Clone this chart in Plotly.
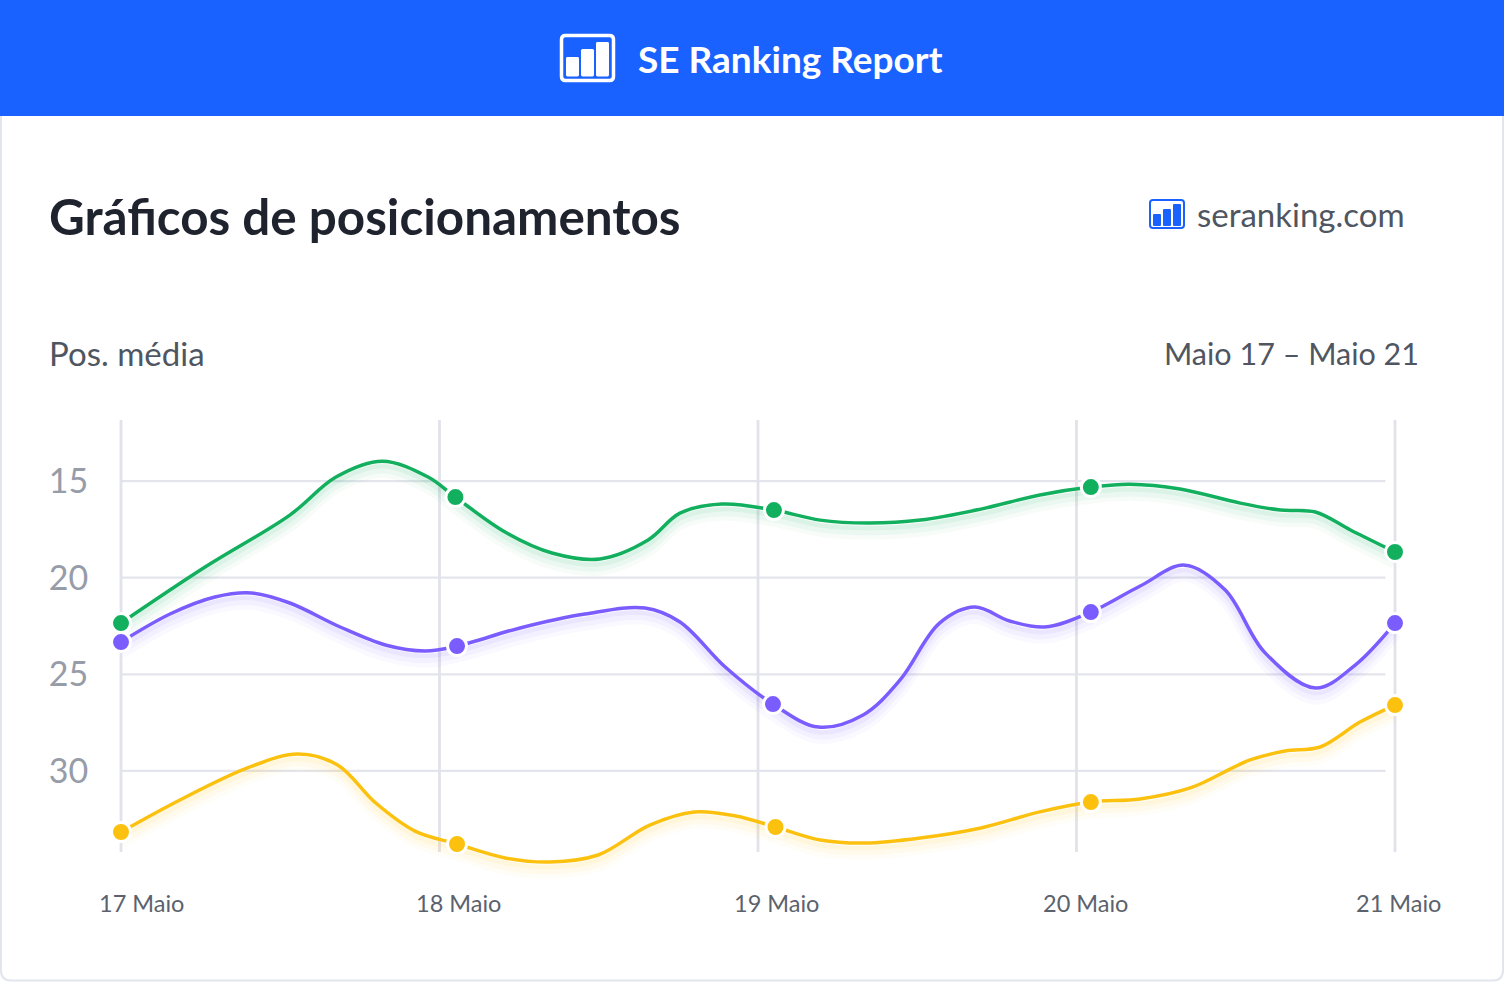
import plotly.graph_objects as go

W, H = 1504, 982
FONT = "Lato"

days = [17, 18, 19, 20, 21]
day_labels = ["17 Maio", "18 Maio", "19 Maio", "20 Maio", "21 Maio"]
label_shift = [20, 19, 18, 9, 3]
y_ticks = [15, 20, 25, 30]

green_x = [17.00,17.264,17.53,17.675,17.82,17.964,18.05,18.206,18.353,18.504,18.655,18.755,18.887,19.05,19.195,19.346,19.51,19.70,19.885,20.045,20.168,20.325,20.514,20.64,20.75,20.86,21.00]
green_y = [22.35,19.45,16.76,14.79,13.97,14.79,15.83,17.64,18.72,19.03,18.05,16.66,16.19,16.50,17.02,17.17,17.02,16.45,15.72,15.31,15.16,15.41,16.14,16.50,16.60,17.53,18.67]
green_idx = [0, 6, 13, 19, 26]

purple_x = [17.00,17.154,17.295,17.41,17.53,17.688,17.83,17.955,18.055,18.253,18.457,18.645,18.755,18.897,19.047,19.19,19.33,19.446,19.57,19.68,19.79,19.90,20.045,20.20,20.34,20.467,20.59,20.75,20.875,21.00]
purple_y = [23.33,21.88,21.00,20.79,21.31,22.55,23.48,23.79,23.54,22.60,21.88,21.57,22.29,24.62,26.54,27.73,27.10,25.29,22.35,21.52,22.24,22.55,21.78,20.43,19.35,20.64,23.85,25.71,24.52,22.35]
purple_idx = [0, 8, 14, 22, 29]

yellow_x = [17.00,17.185,17.405,17.556,17.68,17.80,17.923,18.055,18.206,18.347,18.498,18.66,18.80,18.93,19.055,19.195,19.336,19.51,19.70,19.885,20.045,20.20,20.357,20.545,20.655,20.765,20.89,21.00]
yellow_y = [33.16,31.50,29.79,29.12,29.69,31.66,33.11,33.78,34.50,34.71,34.35,32.80,32.12,32.33,32.90,33.57,33.73,33.47,32.95,32.12,31.61,31.45,30.88,29.43,28.97,28.76,27.47,26.59]
yellow_idx = [0, 7, 14, 20, 27]

series = [
    ("Verde", green_x, green_y, green_idx, "#12b05e", "18,176,94"),
    ("Roxo", purple_x, purple_y, purple_idx, "#7b5cff", "123,92,255"),
    ("Amarelo", yellow_x, yellow_y, yellow_idx, "#fcc10f", "252,193,15"),
]

def px(x): return x / W
def py(y): return 1 - y / H

def rrect(x0, y0, x1, y1, r):
    X = lambda v: f"{px(v):.6f}"
    Y = lambda v: f"{py(v):.6f}"
    return (f"M{X(x0+r)},{Y(y0)} L{X(x1-r)},{Y(y0)} Q{X(x1)},{Y(y0)} {X(x1)},{Y(y0+r)} "
            f"L{X(x1)},{Y(y1-r)} Q{X(x1)},{Y(y1)} {X(x1-r)},{Y(y1)} L{X(x0+r)},{Y(y1)} "
            f"Q{X(x0)},{Y(y1)} {X(x0)},{Y(y1-r)} L{X(x0)},{Y(y0+r)} Q{X(x0)},{Y(y0)} {X(x0+r)},{Y(y0)} Z")

fig = go.Figure()
SMOOTH = 1.0
for name, x, y, idx, col, rgb in series:
    for width, alpha, off in [(14, 0.035, 0.5), (9, 0.05, 0.4), (5, 0.07, 0.25)]:
        fig.add_trace(go.Scatter(x=x, y=[v + off for v in y], mode="lines", hoverinfo="skip", showlegend=False,
                                 line=dict(color=f"rgba({rgb},{alpha})", width=width, shape="spline", smoothing=SMOOTH),
                                 cliponaxis=False))
for name, x, y, idx, col, rgb in series:
    fig.add_trace(go.Scatter(x=x, y=y, mode="lines", name=name, showlegend=False,
                             line=dict(color=col, width=3.5, shape="spline", smoothing=SMOOTH), cliponaxis=False))
for name, x, y, idx, col, rgb in series:
    fig.add_trace(go.Scatter(x=[x[i] for i in idx], y=[y[i] for i in idx], mode="markers", name=name, showlegend=False,
                             marker=dict(color=col, size=19, line=dict(color="white", width=3)), cliponaxis=False))

shapes = [
    dict(type="path", xref="paper", yref="paper", path=rrect(1, -10, 1503, 980.5, 10),
         fillcolor="white", line=dict(color="#e3e5ec", width=2), layer="below"),
    dict(type="rect", xref="paper", yref="paper", x0=0, x1=1, y0=py(116), y1=1,
         fillcolor="#1a62ff", line_width=0, layer="below"),
    dict(type="path", xref="paper", yref="paper", path=rrect(561.5, 35.5, 613.5, 80.5, 4),
         fillcolor="rgba(0,0,0,0)", line=dict(color="white", width=3.5)),
    dict(type="path", xref="paper", yref="paper", path=rrect(1150, 200, 1184, 228, 3),
         fillcolor="rgba(0,0,0,0)", line=dict(color="#1a62ff", width=2)),
]
for x0, x1, top in [(566, 579, 57), (581, 594, 49), (596, 609, 42)]:
    shapes.append(dict(type="path", xref="paper", yref="paper", path=rrect(x0, top, x1, 76.5, 1.5),
                       fillcolor="white", line_width=0))
for x0, x1, top in [(1153, 1161, 214), (1163, 1171, 209), (1173, 1181, 204)]:
    shapes.append(dict(type="path", xref="paper", yref="paper", path=rrect(x0, top, x1, 226, 1),
                       fillcolor="#1a62ff", line_width=0))
GRID_END = 20.97
GRID_TOP, GRID_BOTTOM = 11.84, 34.2
for t in y_ticks:
    shapes.append(dict(type="line", xref="x", yref="y", x0=days[0], x1=GRID_END, y0=t, y1=t,
                       line=dict(color="#e4e5ec", width=2.2), layer="below"))
for d in days:
    shapes.append(dict(type="line", xref="x", yref="y", x0=d, x1=d, y0=GRID_TOP, y1=GRID_BOTTOM,
                       line=dict(color="#e2e3ea", width=2.8), layer="below"))

def text(s, x, y, size, color, anchor="left", weight=400):
    return dict(text=s, xref="paper", yref="paper", x=px(x), y=py(y), xanchor=anchor, yanchor="middle",
                showarrow=False, font=dict(family=FONT, size=size, color=color, weight=weight))

annotations = [
    text("SE Ranking Report", 635.5, 58, 37, "white", weight=700),
    text("Gráficos de posicionamentos", 47, 216, 49.4, "#1f232e", weight=700),
    text("seranking.com", 1195, 214, 33, "#4f5661"),
    text("Pos. média", 47, 353, 33, "#4f5661"),
    text("Maio 17 – Maio 21", 1421, 353, 30.5, "#4f5661", anchor="right"),
]
for d, lab, s in zip(days, day_labels, label_shift):
    annotations.append(dict(text=lab, xref="x", yref="paper", x=d, y=py(902.5), xshift=s, xanchor="center",
                            yanchor="middle", showarrow=False,
                            font=dict(family=FONT, size=23.5, color="#5b626d")))

fig.update_layout(
    width=W, height=H, margin=dict(l=0, r=0, t=0, b=0), autosize=False,
    paper_bgcolor="white", plot_bgcolor="rgba(0,0,0,0)", showlegend=False,
    shapes=shapes, annotations=annotations, font=dict(family=FONT),
    xaxis=dict(domain=[px(89.15), px(1426.85)], range=[16.9, 21.1], tickvals=days, showticklabels=False,
               showgrid=False, zeroline=False, showline=False, ticks=""),
    yaxis=dict(domain=[py(890), py(420)], range=[36.16, 11.84], tickvals=y_ticks, showgrid=False, zeroline=False,
               showline=False, ticks="", ticklabelstandoff=0,
               tickfont=dict(family=FONT, size=34, color="#969ca8")),
)

fig.write_html("out.html", config={"displayModeBar": False},
               post_script="document.body.style.margin='0';")
